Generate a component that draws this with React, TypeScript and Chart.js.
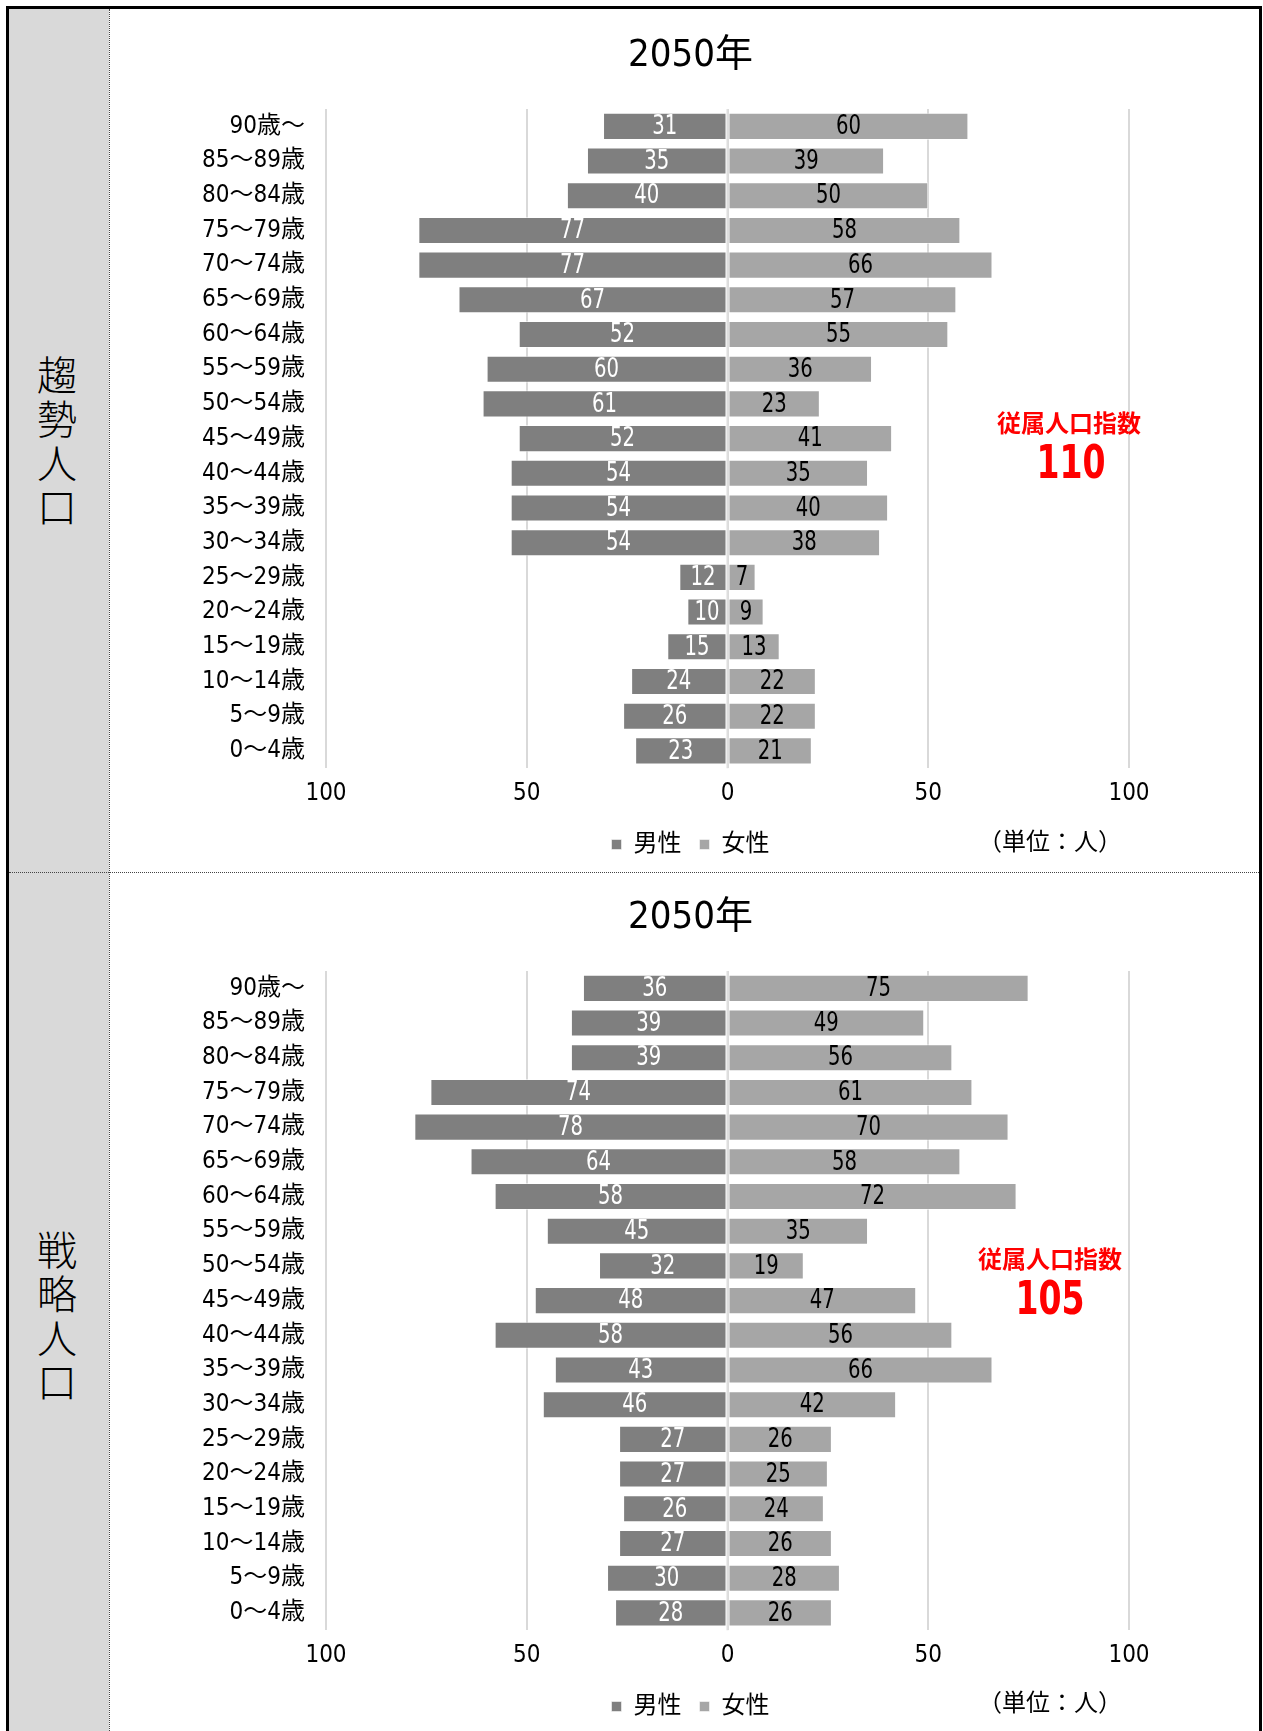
import React, { useEffect, useRef } from 'react';
import { Chart, registerables } from 'chart.js';

Chart.register(...registerables);

// ---------------- data ----------------
const ageLabels = [
  '90歳〜', '85〜89歳', '80〜84歳', '75〜79歳', '70〜74歳', '65〜69歳', '60〜64歳',
  '55〜59歳', '50〜54歳', '45〜49歳', '40〜44歳', '35〜39歳', '30〜34歳', '25〜29歳',
  '20〜24歳', '15〜19歳', '10〜14歳', '5〜9歳', '0〜4歳',
];
const trendMale = [31, 35, 40, 77, 77, 67, 52, 60, 61, 52, 54, 54, 54, 12, 10, 15, 24, 26, 23];
const trendFemale = [60, 39, 50, 58, 66, 57, 55, 36, 23, 41, 35, 40, 38, 7, 9, 13, 22, 22, 21];
const strategyMale = [36, 39, 39, 74, 78, 64, 58, 45, 32, 48, 58, 43, 46, 27, 27, 26, 27, 30, 28];
const strategyFemale = [75, 49, 56, 61, 70, 58, 72, 35, 19, 47, 56, 66, 42, 26, 25, 24, 26, 28, 26];
const xTickMin = -100;
const xTickMax = 100;
const xTickStep = 50;
const chartTitle = '2050年';
const seriesNames = ['男性', '女性'];
const panelNames = ['趨勢人口', '戦略人口'];
const dependencyLabel = '従属人口指数';
const dependencyValues = ['110', '105'];
const unitText = '（単位：人）';

// ---------------- styles ----------------
const MALE_COLOR = '#7f7f7f';
const FEMALE_COLOR = '#a6a6a6';
const GRID_COLOR = '#d9d9d9';
const FAMILY = "'Liberation Sans Narrow', 'Arial Narrow', 'DejaVu Sans Condensed', 'Noto Sans CJK JP', sans-serif";
const CJK_FAMILY = "'Noto Sans CJK JP', sans-serif";

const CANVAS_W = 1149;
const CANVAS_H = 863;

function Pyramid({ male, female, top }: { male: number[]; female: number[]; top: number }) {
  const ref = useRef<HTMLCanvasElement>(null);
  useEffect(() => {
    if (!ref.current) return;
    const valueLabels = {
      id: 'valueLabels',
      afterDatasetsDraw(chart: any) {
        const ctx = chart.ctx;
        ctx.save();
        const xs = chart.scales.x;
        const x0 = xs.getPixelForValue(0);
        ctx.strokeStyle = '#dedede';
        ctx.lineWidth = 2;
        ctx.beginPath();
        ctx.moveTo(x0, chart.chartArea.top);
        ctx.lineTo(x0, chart.chartArea.bottom);
        ctx.stroke();
        ctx.font = `26px ${FAMILY}`;
        ctx.textAlign = 'center';
        ctx.textBaseline = 'middle';
        const sx = 0.84;
        chart.data.datasets.forEach((ds: any, i: number) => {
          const meta = chart.getDatasetMeta(i);
          meta.data.forEach((el: any, j: number) => {
            const v = Math.abs(ds.data[j]);
            const p = el.getProps(['x', 'y', 'base'], true);
            ctx.fillStyle = i === 0 ? '#ffffff' : '#000000';
            ctx.save();
            ctx.translate((p.x + p.base) / 2, p.y + 1);
            ctx.scale(sx, 1);
            ctx.fillText(String(v), 0, 0);
            ctx.restore();
          });
        });
        ctx.restore();
      },
    };
    const chart = new Chart(ref.current, {
      type: 'bar',
      data: {
        labels: ageLabels,
        datasets: [
          {
            label: seriesNames[0],
            data: male.map((v) => -v),
            backgroundColor: MALE_COLOR,
            borderColor: 'rgba(255,255,255,0.55)',
            borderWidth: 1,
            borderSkipped: false,
          },
          {
            label: seriesNames[1],
            data: female,
            backgroundColor: FEMALE_COLOR,
            borderColor: 'rgba(255,255,255,0.55)',
            borderWidth: 1,
            borderSkipped: false,
          },
        ],
      },
      options: {
        indexAxis: 'y',
        responsive: false,
        maintainAspectRatio: false,
        animation: false,
        layout: { padding: { left: 12, right: 0, top: 0, bottom: 5.5 } },
        datasets: { bar: { categoryPercentage: 1, barPercentage: 0.78 } },
        scales: {
          x: {
            type: 'linear',
            stacked: true,
            min: xTickMin,
            max: xTickMax,
            ticks: {
              stepSize: xTickStep,
              callback: (v: any) => String(Math.abs(Number(v))),
              padding: 11,
              font: { size: 24, family: FAMILY },
              color: '#000',
            },
            grid: { color: GRID_COLOR, lineWidth: 2, drawTicks: false },
            border: { display: false },
            afterFit(s: any) {
              s.height -= 4.5;
            },
          },
          y: {
            type: 'category',
            stacked: true,
            position: 'left',
            grid: { display: false, drawTicks: false },
            border: { display: false },
            ticks: { padding: 21, font: { size: 24, family: FAMILY }, color: '#000', autoSkip: false },
            afterFit(s: any) {
              s.width = 204;
            },
          },
          yRight: {
            type: 'category',
            position: 'right',
            grid: { display: false, drawTicks: false },
            border: { display: false },
            ticks: { display: false },
            afterFit(s: any) {
              s.width = 130;
            },
          },
        },
        plugins: {
          title: {
            display: true,
            text: chartTitle,
            font: { size: 38, family: FAMILY, weight: 'normal' },
            color: '#000',
            padding: { top: 24.7, bottom: 29.7 },
          },
          legend: {
            position: 'bottom',
            labels: {
              boxWidth: 10,
              boxHeight: 10,
              padding: 18,
              font: { size: 24, family: FAMILY },
              color: '#000',
            },
          },
          tooltip: { enabled: false },
        },
      } as any,
      plugins: [valueLabels],
    });
    return () => chart.destroy();
  }, []);
  return (
    <canvas
      ref={ref}
      width={CANVAS_W}
      height={CANVAS_H}
      style={{ position: 'absolute', left: 110, top, width: CANVAS_W, height: CANVAS_H }}
    />
  );
}

function VerticalLabel({ text, cy }: { text: string; cy: number }) {
  const chars = Array.from(text);
  const lh = 44;
  return (
    <div
      style={{
        position: 'absolute',
        left: 35,
        width: 44,
        top: cy - (chars.length * lh) / 2,
        display: 'flex',
        flexDirection: 'column',
        alignItems: 'center',
        fontFamily: CJK_FAMILY,
        fontWeight: 300,
        fontSize: 40,
        color: '#000',
      }}
    >
      {chars.map((c, i) => (
        <span key={i} style={{ lineHeight: `${lh}px`, height: lh }}>
          {c}
        </span>
      ))}
    </div>
  );
}

function Centered({ x, y, children, style, sx = 1 }: { x: number; y: number; children: any; style: any; sx?: number }) {
  return (
    <div
      style={{
        position: 'absolute',
        left: x,
        top: y,
        transform: `translate(-50%, -50%) scaleX(${sx})`,
        whiteSpace: 'nowrap',
        lineHeight: 1,
        ...style,
      }}
    >
      {children}
    </div>
  );
}

export default function App() {
  const annoLabelStyle = { fontFamily: CJK_FAMILY, fontWeight: 700, fontSize: 24, color: '#ff0000' };
  const annoValueStyle = { fontFamily: FAMILY, fontWeight: 700, fontSize: 46, color: '#ff0000' };
  const unitStyle = { fontFamily: FAMILY, fontSize: 24, color: '#000' };
  return (
    <div
      style={{
        position: 'absolute',
        left: 0,
        top: 0,
        width: 1263,
        height: 1731,
        overflow: 'hidden',
        background: '#fff',
      }}
    >
      <div style={{ position: 'absolute', left: 9, top: 9, width: 100, height: 1740, background: '#d9d9d9' }} />
      <div
        style={{
          position: 'absolute',
          left: 109,
          top: 9,
          height: 1740,
          width: 0,
          borderLeft: '1px dotted #444',
        }}
      />
      <div
        style={{
          position: 'absolute',
          left: 9,
          top: 872,
          width: 1250,
          height: 0,
          borderTop: '1px dotted #444',
        }}
      />
      <div
        style={{
          position: 'absolute',
          left: 6,
          top: 6,
          width: 1256,
          height: 1760,
          border: '3px solid #000',
          boxSizing: 'border-box',
        }}
      />
      <VerticalLabel text={panelNames[0]} cy={439} />
      <VerticalLabel text={panelNames[1]} cy={1314} />
      <Pyramid male={trendMale} female={trendFemale} top={9} />
      <Pyramid male={strategyMale} female={strategyFemale} top={871} />
      <Centered x={1069} y={422} style={annoLabelStyle}>{dependencyLabel}</Centered>
      <Centered x={1071} y={462} style={annoValueStyle} sx={0.8}>{dependencyValues[0]}</Centered>
      <Centered x={1050} y={1258} style={annoLabelStyle}>{dependencyLabel}</Centered>
      <Centered x={1050} y={1298} style={annoValueStyle} sx={0.8}>{dependencyValues[1]}</Centered>
      <Centered x={1050} y={842} style={unitStyle}>{unitText}</Centered>
      <Centered x={1050} y={1703} style={unitStyle}>{unitText}</Centered>
    </div>
  );
}
